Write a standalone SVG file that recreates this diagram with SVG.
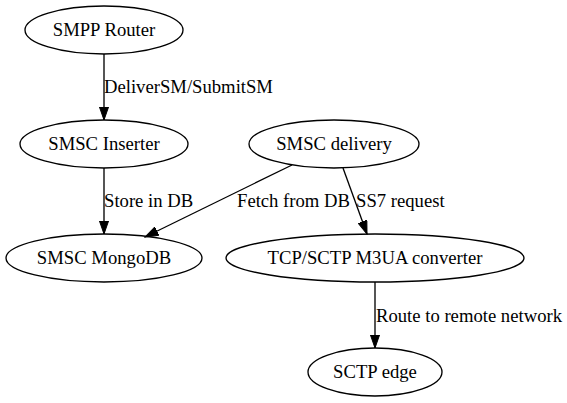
<svg xmlns="http://www.w3.org/2000/svg" width="567" height="403" viewBox="0 0 567 403">
<style>
  .node ellipse { fill: none; stroke: #000; stroke-width: 1.33; }
  text { font-family: "Liberation Serif", "Times New Roman", serif; font-size: 18.67px; fill: #000; }
  .node text { text-anchor: middle; }
  .edge line { stroke: #000; stroke-width: 1.33; fill: none; marker-end: url(#arrow); }
  .lbl { text-anchor: start; }
</style>
<defs>
  <marker id="arrow" markerUnits="userSpaceOnUse" markerWidth="14" markerHeight="10" viewBox="0 -5 14 10" refX="13.33" refY="0" orient="auto">
    <path d="M0,-4.67 L13.33,0 L0,4.67 Z" fill="#000" stroke="#000" stroke-width="1"/>
  </marker>
</defs>
<rect width="567" height="403" fill="#fff"/>
<g id="edges" class="edge">
  <line x1="104" y1="54" x2="104" y2="120"/>
  <text class="lbl" x="104" y="93">DeliverSM/SubmitSM</text>
  <line x1="104" y1="168" x2="104" y2="234"/>
  <text class="lbl" x="104" y="207">Store in DB</text>
  <line x1="292" y1="165" x2="145" y2="237"/>
  <text class="lbl" x="237" y="207">Fetch from DB</text>
  <line x1="343" y1="168" x2="367" y2="234"/>
  <text class="lbl" x="356" y="207">SS7 request</text>
  <line x1="375" y1="282" x2="375" y2="348"/>
  <text class="lbl" x="376" y="322">Route to remote network</text>
</g>
<g id="smpp_router" class="node">
  <ellipse cx="104" cy="30" rx="79" ry="24"/>
  <text x="104" y="36">SMPP Router</text>
</g>
<g id="smsc_inserter" class="node">
  <ellipse cx="104" cy="144" rx="84" ry="24"/>
  <text x="104" y="150">SMSC Inserter</text>
</g>
<g id="smsc_delivery" class="node">
  <ellipse cx="334" cy="144" rx="85" ry="24"/>
  <text x="334" y="150">SMSC delivery</text>
</g>
<g id="smsc_mongodb" class="node">
  <ellipse cx="104" cy="258" rx="98" ry="24"/>
  <text x="104" y="264">SMSC MongoDB</text>
</g>
<g id="m3ua_converter" class="node">
  <ellipse cx="375" cy="258" rx="149" ry="24"/>
  <text x="375" y="264">TCP/SCTP M3UA converter</text>
</g>
<g id="sctp_edge" class="node">
  <ellipse cx="375" cy="372" rx="67" ry="24"/>
  <text x="375" y="378">SCTP edge</text>
</g>
</svg>
